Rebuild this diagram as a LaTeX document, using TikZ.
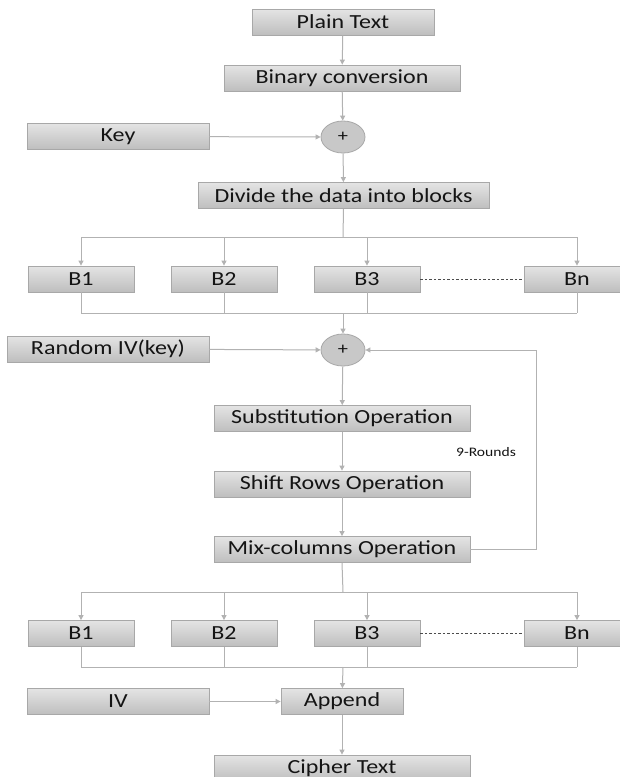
\documentclass[tikz,border=0pt]{standalone}
\usepackage{fontspec}
\setmainfont[FakeStretch=1.2]{Carlito}
\usetikzlibrary{arrows.meta,shapes.geometric}
\definecolor{boxtop}{HTML}{E4E4E4}
\definecolor{boxbot}{HTML}{BEBEBE}
\definecolor{boxline}{HTML}{A8A8A8}
\definecolor{conn}{HTML}{B2B2B2}
\definecolor{txt}{HTML}{141414}
\begin{document}
\begin{tikzpicture}[x=1pt,y=-1pt,
  box/.style={draw=boxline, top color=boxtop, bottom color=boxbot, line width=0.8pt,
    minimum height=26pt, inner sep=0pt, text=txt, font=\fontsize{20}{22}\selectfont},
  bbox/.style={box, minimum width=106pt},
  opbox/.style={box, minimum width=256pt},
  xorop/.style={ellipse, draw=boxline, fill=boxbot!85!white, line width=0.8pt,
    minimum width=44pt, minimum height=32pt, inner sep=0pt, text=txt,
    font=\fontsize{17}{19}\selectfont},
  conn/.style={draw=conn, line width=1pt},
  arr/.style={conn, -{Triangle[width=5pt,length=5pt]}},
  dots/.style={draw=black!70, line width=0.6pt, dash pattern=on 2.5pt off 2pt}
]
\useasboundingbox (0,0) rectangle (620,777);
\fill[white] (0,0) rectangle (620,777);

% top part
\node[box, minimum width=182pt] (plain) at (343,22) {Plain Text};
\node[box, minimum width=236pt] (binary) at (342,78) {Binary conversion};
\node[box, minimum width=182pt] (key) at (118,136.5) {Key};
\node[xorop] (x1) at (343,137) {+};
\node[box, minimum width=291pt] (divide) at (343.5,195.5) {Divide the data into blocks};

\draw[arr] (plain) -- (binary);
\draw[arr] (binary) -- (x1);
\draw[arr] (key) -- (x1);
\draw[arr] (x1) -- (divide);

% first block row
\node[bbox] (a1) at (81,279) {B1};
\node[bbox] (a2) at (224,279) {B2};
\node[bbox] (a3) at (367,279) {B3};
\node[bbox] (an) at (577,279) {Bn};
\draw[dots] (a3) -- (an);

\coordinate (s1) at (343,237);
\coordinate (j1) at (343,313);
\draw[conn] (divide.south) -- (s1);
\draw[conn] (a1.north |- s1) -- (an.north |- s1);
\foreach \b in {a1,a2,a3,an} {
  \draw[arr] (\b.north |- s1) -- (\b.north);
  \draw[conn] (\b.south) -- (\b.south |- j1);
}
\draw[conn] (a1.south |- j1) -- (an.south |- j1);

% rounds
\node[xorop] (x2) at (343,350) {+};
\node[box, minimum width=202pt] (riv) at (108,349) {Random IV(key)};
\node[opbox] (sub) at (342,418.5) {Substitution Operation};
\node[opbox] (shift) at (342,484) {Shift Rows Operation};
\node[opbox] (mix) at (342,549.5) {Mix-columns Operation};
\node[text=txt, font=\fontsize{13}{15}\selectfont] (rounds) at (486,452) {9-Rounds};

\draw[arr] (j1) -- (x2);
\draw[arr] (riv) -- (x2);
\draw[arr] (x2) -- (sub);
\draw[arr] (sub) -- (shift);
\draw[arr] (shift) -- (mix);
\coordinate (fb) at (536,549.5);
\draw[arr] (mix.east) -- (fb) -- (fb |- x2) -- (x2.east);

% second block row
\node[bbox] (c1) at (81,633.5) {B1};
\node[bbox] (c2) at (224,633.5) {B2};
\node[bbox] (c3) at (367,633.5) {B3};
\node[bbox] (cn) at (577,633.5) {Bn};
\draw[dots] (c3) -- (cn);

\coordinate (s2) at (343,592);
\coordinate (j2) at (343,667);
\draw[conn] (mix.south) -- (s2);
\draw[conn] (c1.north |- s2) -- (cn.north |- s2);
\foreach \b in {c1,c2,c3,cn} {
  \draw[arr] (\b.north |- s2) -- (\b.north);
  \draw[conn] (\b.south) -- (\b.south |- j2);
}
\draw[conn] (c1.south |- j2) -- (cn.south |- j2);

% output
\node[box, minimum width=182pt] (iv) at (118,701.5) {IV};
\node[box, minimum width=122pt] (append) at (342,701.5) {Append};
\node[opbox] (cipher) at (342,768) {Cipher Text};
\draw[arr] (j2) -- (append);
\draw[arr] (iv) -- (append);
\draw[arr] (append) -- (cipher);
\end{tikzpicture}
\end{document}
